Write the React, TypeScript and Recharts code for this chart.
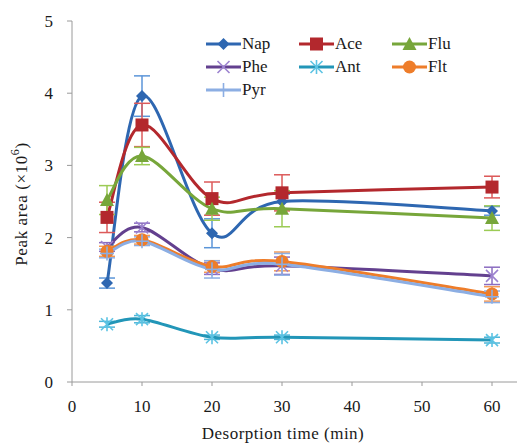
import React from "react";
import { LineChart, Line, XAxis, YAxis, ErrorBar, Label } from "recharts";

const times = [5, 10, 20, 30, 60];
const xTicks = [0, 10, 20, 30, 40, 50, 60];
const yTicks = [0, 1, 2, 3, 4, 5];

const nap = [1.37, 3.96, 2.06, 2.5, 2.37];
const napErr = [0.07, 0.28, 0.2, 0.1, 0.06];
const ace = [2.28, 3.56, 2.54, 2.62, 2.7];
const aceErr = [0.21, 0.3, 0.23, 0.25, 0.15];
const flu = [2.52, 3.13, 2.4, 2.4, 2.27];
const fluErr = [0.2, 0.12, 0.16, 0.25, 0.17];
const phe = [1.87, 2.14, 1.57, 1.61, 1.47];
const pheErr = [0.06, 0.06, 0.08, 0.12, 0.12];
const ant = [0.8, 0.87, 0.62, 0.62, 0.58];
const antErr = [0.04, 0.05, 0.03, 0.03, 0.04];
const flt = [1.81, 1.97, 1.6, 1.67, 1.22];
const fltErr = [0.07, 0.06, 0.08, 0.13, 0.1];
const pyr = [1.78, 1.95, 1.56, 1.63, 1.18];
const pyrErr = [0.06, 0.06, 0.12, 0.15, 0.08];

const series = [
  { key: "Nap", values: nap, errs: napErr, color: "#2E67B1", errColor: "#5B95D8", marker: "diamond" },
  { key: "Ace", values: ace, errs: aceErr, color: "#B3282D", errColor: "#DC5A5A", marker: "square" },
  { key: "Flu", values: flu, errs: fluErr, color: "#77A63A", errColor: "#9CCB55", marker: "triangle" },
  { key: "Phe", values: phe, errs: pheErr, color: "#63408F", errColor: "#8B6CC0", marker: "x" },
  { key: "Ant", values: ant, errs: antErr, color: "#2296B8", errColor: "#4DB6D8", marker: "star" },
  { key: "Flt", values: flt, errs: fltErr, color: "#EE7D2A", errColor: "#F59A55", marker: "circle" },
  { key: "Pyr", values: pyr, errs: pyrErr, color: "#8CAEE3", errColor: "#8CAEE3", marker: "plus" },
];

const data = times.map((t, i) => {
  const row: any = { t };
  series.forEach((s) => {
    row[s.key] = s.values[i];
    row[s.key + "Err"] = s.errs[i];
  });
  return row;
});

// Excel-like smoothed line (uniform Catmull-Rom)
const smoothCurve = (context: any) => {
  let pts: number[][] = [];
  return {
    areaStart() {},
    areaEnd() {},
    lineStart() {
      pts = [];
    },
    point(x: number, y: number) {
      pts.push([+x, +y]);
    },
    lineEnd() {
      if (!pts.length) return;
      context.moveTo(pts[0][0], pts[0][1]);
      for (let i = 0; i < pts.length - 1; i++) {
        const p0 = pts[i - 1] || pts[i];
        const p1 = pts[i];
        const p2 = pts[i + 1];
        const p3 = pts[i + 2] || p2;
        context.bezierCurveTo(
          p1[0] + (p2[0] - p0[0]) / 6,
          p1[1] + (p2[1] - p0[1]) / 6,
          p2[0] - (p3[0] - p1[0]) / 6,
          p2[1] - (p3[1] - p1[1]) / 6,
          p2[0],
          p2[1]
        );
      }
    },
  };
};

const drawMarker = (kind: string, cx: number, cy: number, color: string, key?: any) => {
  switch (kind) {
    case "diamond":
      return <polygon key={key} points={`${cx},${cy - 6} ${cx + 6},${cy} ${cx},${cy + 6} ${cx - 6},${cy}`} fill={color} />;
    case "square":
      return <rect key={key} x={cx - 6.5} y={cy - 6.5} width={13} height={13} fill={color} />;
    case "triangle":
      return <polygon key={key} points={`${cx},${cy - 7} ${cx + 7},${cy + 6} ${cx - 7},${cy + 6}`} fill={color} />;
    case "circle":
      return <circle key={key} cx={cx} cy={cy} r={6.5} fill={color} />;
    case "x":
      return (
        <g key={key} stroke="#9C82CF" strokeWidth={1.6}>
          <line x1={cx - 6} y1={cy - 6} x2={cx + 6} y2={cy + 6} />
          <line x1={cx - 6} y1={cy + 6} x2={cx + 6} y2={cy - 6} />
        </g>
      );
    case "star":
      return (
        <g key={key} stroke="#5CC3E3" strokeWidth={1.6}>
          <line x1={cx - 6} y1={cy - 6} x2={cx + 6} y2={cy + 6} />
          <line x1={cx - 6} y1={cy + 6} x2={cx + 6} y2={cy - 6} />
          <line x1={cx} y1={cy - 7} x2={cx} y2={cy + 7} />
        </g>
      );
    case "plus":
      return (
        <g key={key} stroke={color} strokeWidth={1.6}>
          <line x1={cx - 7} y1={cy} x2={cx + 7} y2={cy} />
          <line x1={cx} y1={cy - 7} x2={cx} y2={cy + 7} />
        </g>
      );
    default:
      return <g key={key} />;
  }
};

const font = "'Liberation Serif', 'Times New Roman', serif";

const XTick = (props: any) => (
  <text x={props.x} y={props.y} dy="0.71em" textAnchor="middle" fontFamily={font} fontSize={17} fill="#1a1a1a">
    {props.payload.value}
  </text>
);

const YTick = (props: any) => (
  <text x={props.x} y={props.y} dy="0.355em" textAnchor="end" fontFamily={font} fontSize={17} fill="#1a1a1a">
    {props.payload.value}
  </text>
);

const YTitle = () => (
  <text
    x={23}
    y={204}
    transform="rotate(-90 23 204)"
    textAnchor="middle"
    dominantBaseline="middle"
    fontFamily={font}
    fontSize={17}
    letterSpacing={0.6}
    fill="#1a1a1a"
  >
    Peak area (×10
    <tspan baselineShift="super" fontSize={12}>6</tspan>
    )
  </text>
);

const XTitle = () => (
  <text x={283} y={439} textAnchor="middle" fontFamily={font} fontSize={17} letterSpacing={0.5} fill="#1a1a1a">
    Desorption time (min)
  </text>
);

const LegendBox = () => (
  <div
    style={{
      position: "absolute",
      left: 206,
      top: 34,
      width: 290,
      display: "grid",
      gridTemplateColumns: "93px 93px 93px",
      rowGap: 4,
      fontFamily: font,
      fontSize: 17,
      color: "#1a1a1a",
    }}
  >
    {series.map((s) => (
      <div key={s.key} style={{ display: "flex", alignItems: "center", height: 19 }}>
        <svg width={35} height={16} style={{ display: "block" }}>
          <line x1={0} y1={8} x2={35} y2={8} stroke={s.color} strokeWidth={3} />
          {drawMarker(s.marker, 17.5, 8, s.color)}
        </svg>
        <span style={{ marginLeft: 1, lineHeight: "19px" }}>{s.key}</span>
      </div>
    ))}
  </div>
);

export default function App() {
  return (
    <div style={{ position: "absolute", left: 0, top: 0, width: 517, height: 446, background: "#fff" }}>
      <LineChart width={517} height={446} data={data} margin={{ top: 21, right: 0, bottom: 24, left: 0 }}>
        <XAxis
          type="number"
          dataKey="t"
          domain={[0, 63.57]}
          ticks={xTicks}
          allowDataOverflow
          height={40}
          tickSize={4}
          tickMargin={14}
          stroke="#9a9a9a"
          tick={<XTick />}
        >
          <Label content={<XTitle />} />
        </XAxis>
        <YAxis
          type="number"
          domain={[0, 5]}
          ticks={yTicks}
          width={72}
          tickSize={5}
          tickMargin={14}
          stroke="#9a9a9a"
          tick={<YTick />}
        >
          <Label content={<YTitle />} />
        </YAxis>
        {series.map((s) => (
          <Line
            key={s.key}
            dataKey={s.key}
            type={smoothCurve as any}
            stroke={s.color}
            strokeWidth={3}
            isAnimationActive={false}
            dot={(p: any) => drawMarker(s.marker, p.cx, p.cy, s.color, `${s.key}-${p.index}`)}
            activeDot={false}
          >
            <ErrorBar
              dataKey={s.key + "Err"}
              direction="y"
              width={8}
              stroke={s.errColor}
              strokeWidth={1.5}
              isAnimationActive={false}
            />
          </Line>
        ))}
      </LineChart>
      <LegendBox />
    </div>
  );
}
